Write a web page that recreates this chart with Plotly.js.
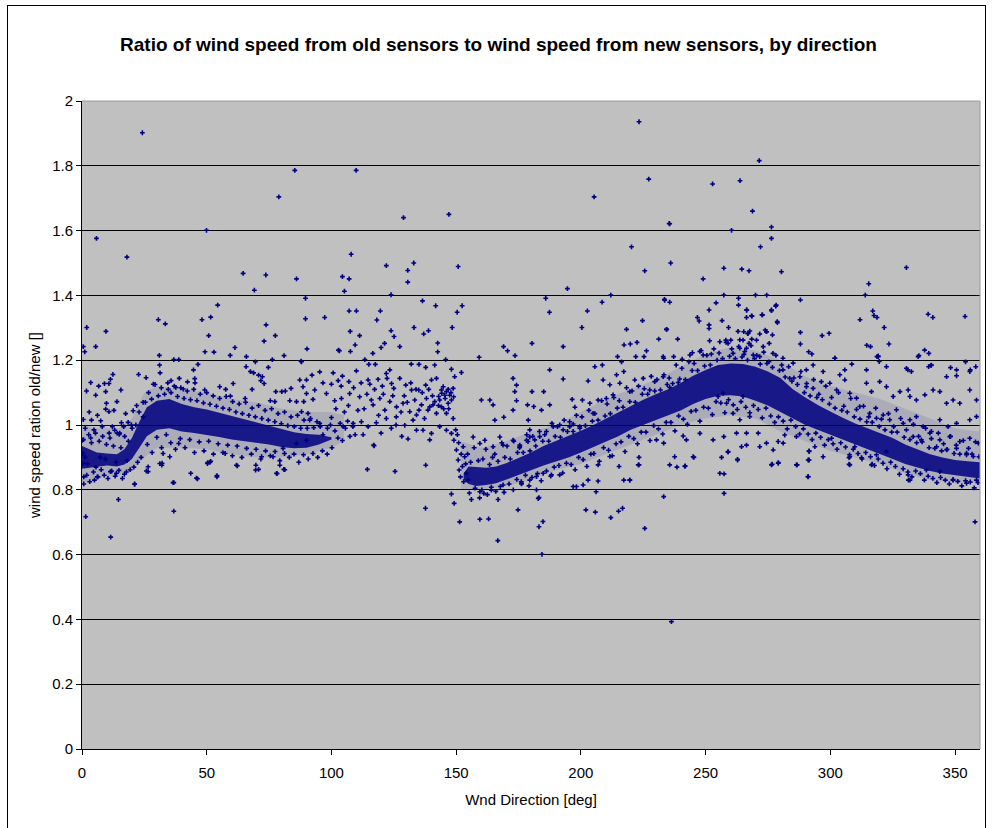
<!DOCTYPE html>
<html><head><meta charset="utf-8">
<script src="https://cdn.plot.ly/plotly-3.0.1.min.js"></script>
<style>
html,body{margin:0;padding:0;background:#fff;}
#wrap{position:relative;width:997px;height:828px;overflow:hidden;}
#chart{width:997px;height:828px;}
#frame{position:absolute;left:7px;top:5px;width:977px;height:840px;border:1px solid #000;pointer-events:none;}
</style>
</head><body>
<div id="wrap"><div id="chart"></div><div id="frame"></div></div>
<script>
// Dense core of the point cloud: lower / upper edges read at sampled directions
const coreDirA  = [0,3,6,10,14,17,20,23,26,30,35,40,45,50,55,60,65,70,75,80,85,90,95,100];
const coreLowA  = [0.865,0.868,0.872,0.875,0.872,0.878,0.895,0.93,0.965,0.985,0.99,0.98,0.975,0.97,0.963,0.955,0.95,0.945,0.94,0.932,0.928,0.93,0.94,0.955];
const coreHighA = [0.935,0.925,0.915,0.912,0.91,0.925,0.96,1.01,1.055,1.075,1.08,1.065,1.055,1.048,1.038,1.028,1.018,1.008,0.998,0.988,0.978,0.972,0.97,0.962];

const coreDirB  = [153,155,158,162,166,170,175,180,185,190,195,200,205,210,215,220,225,230,235,240,245,250,255,260,265,270,275,280,285,290,295,300,305,310,315,320,325,330,335,340,345,350,355,360];
const coreLowB  = [0.83,0.818,0.812,0.815,0.82,0.83,0.845,0.86,0.875,0.888,0.9,0.915,0.93,0.948,0.965,0.985,1.0,1.015,1.03,1.045,1.065,1.08,1.09,1.092,1.088,1.075,1.06,1.04,1.02,1.0,0.985,0.97,0.955,0.94,0.925,0.91,0.895,0.88,0.868,0.858,0.85,0.845,0.84,0.835];
const coreHighB = [0.85,0.872,0.87,0.868,0.872,0.882,0.898,0.915,0.935,0.95,0.965,0.982,1.0,1.02,1.04,1.06,1.078,1.095,1.11,1.13,1.152,1.17,1.185,1.19,1.188,1.18,1.165,1.145,1.11,1.085,1.062,1.042,1.022,1.005,0.99,0.975,0.96,0.94,0.925,0.91,0.9,0.892,0.888,0.885];

// Looser haze of points around the core
const hazeDirA  = [0,5,10,15,20,25,30,40,50,60,70,80,90,100,105];
const hazeLowA  = [0.82,0.83,0.84,0.845,0.86,0.9,0.93,0.93,0.925,0.91,0.9,0.9,0.91,0.93,0.95];
const hazeHighA = [1.0,0.99,0.99,0.99,1.02,1.1,1.12,1.11,1.1,1.08,1.07,1.05,1.04,1.04,1.03];
const hazeDirB  = [152,160,170,180,190,200,210,220,230,240,250,260,270,280,290,300,310,320,330,340,350,360];
const hazeLowB  = [0.8,0.8,0.81,0.83,0.86,0.88,0.91,0.94,0.97,1.0,1.02,1.03,1.02,0.98,0.95,0.92,0.9,0.88,0.85,0.83,0.82,0.82];
const hazeHighB = [0.95,0.93,0.95,0.98,1.0,1.04,1.08,1.11,1.14,1.18,1.22,1.24,1.23,1.2,1.15,1.12,1.1,1.08,1.05,1.02,0.99,0.98];

// Individual points next to the core: [direction deg, ratio]
const edgePoints = [
[0.6,0.955],[1.3,0.99],[1.9,0.845],[2.7,0.97],[3.1,0.825],[3.8,0.945],[4.6,0.855],[5.4,0.975],[6.1,0.84],[6.9,0.95],[7.7,0.862],[8.3,0.965],[8.9,0.845],[9.8,0.94],[10.4,0.835],[11.2,0.96],[11.9,0.858],[12.6,0.935],[13.3,0.842],[14.1,0.975],[14.8,0.86],[15.6,0.93],[16.2,0.835],[17.1,0.965],[17.8,0.855],[18.6,0.95],[19.3,0.862],[20.1,0.99],[20.8,0.87],[21.6,1.0],[22.3,0.885],[22.9,1.04],[23.7,0.9],[24.5,1.07],
[1.2,0.9],[2.2,0.88],[3.5,0.96],[4.8,0.985],[5.6,0.87],[7.3,0.9],[8.1,0.995],[9.4,0.895],[10.9,0.975],[12.2,0.995],[13.7,0.885],[15.1,0.975],[16.7,0.995],[18.1,0.89],[19.8,1.0],[2.9,1.04],[6.2,1.03],[12.8,1.045],[17.5,1.035],[21.9,1.06],
[25.4,1.07],[26.7,1.1],[27.9,1.08],[29.3,1.125],[30.6,1.09],[31.8,1.115],[33.1,1.095],[34.4,1.13],[35.7,1.1],[37.0,1.12],[38.3,1.088],[39.6,1.115],[40.9,1.082],[42.2,1.105],[43.5,1.078],[44.8,1.11],[46.1,1.075],[47.4,1.095],[48.7,1.068],[50.0,1.1],[51.3,1.064],[52.6,1.09],[53.9,1.058],[55.2,1.082],[56.5,1.052],[57.8,1.088],[59.1,1.048],[60.4,1.072],[61.7,1.04],[63.0,1.065],[64.3,1.035],[65.6,1.07],[66.9,1.03],[68.2,1.052],[69.5,1.025],[70.8,1.06],[72.1,1.02],[73.4,1.045],[74.7,1.015],[76.0,1.05],[77.3,1.01],[78.6,1.035],[79.9,1.004],[81.2,1.04],[82.5,0.998],[83.8,1.025],[85.1,0.995],[86.4,1.03],[87.7,0.99],[89.0,1.015],[90.3,0.99],[91.6,1.02],[92.9,0.992],[94.2,1.01],[95.5,0.995],
[26.2,0.94],[28.1,0.915],[30.0,0.962],[31.9,0.93],[33.8,0.97],[35.6,0.945],[37.5,0.925],[39.4,0.958],[41.3,0.93],[43.2,0.955],[45.1,0.915],[47.0,0.948],[48.9,0.92],[50.8,0.95],[52.7,0.91],[54.6,0.942],[56.5,0.915],[58.4,0.938],[60.3,0.905],[62.2,0.935],[64.1,0.9],[66.0,0.928],[67.9,0.91],[69.8,0.925],[71.7,0.895],[73.6,0.92],[75.5,0.905],[77.4,0.918],[79.3,0.89],[81.2,0.912],[83.1,0.9],[85.0,0.91],[86.9,0.885],[88.8,0.908],[90.7,0.895],[92.6,0.912],[94.5,0.9],[96.4,0.92],[98.3,0.91],[100.2,0.93],
[96.6,0.97],[98.4,0.99],[99.6,1.0],[101.4,0.982],[102.6,0.96],[103.5,1.005],[104.4,0.952],[105.6,0.99],[106.5,1.012],[107.4,0.965],[108.6,0.995],[109.5,0.97],
[154.6,0.91],[155.8,0.885],[157.2,0.93],[158.9,0.89],[155.3,0.79],[157.6,0.805],[159.4,0.775],
[160.7,0.895],[161.9,0.925],[163.4,0.878],[164.6,0.9],[160.3,0.8],[162.5,0.785],[164.1,0.808],
[165.5,0.91],[166.8,0.888],[168.3,0.945],[169.5,0.9],[165.9,0.795],[167.7,0.81],[169.2,0.792],
[170.4,0.935],[171.7,0.895],[173.1,0.95],[174.6,0.915],[171.2,0.818],[172.9,0.8],[174.3,0.832],
[175.4,0.93],[176.9,0.915],[178.3,0.97],[179.6,0.92],[176.1,0.825],[177.8,0.845],[179.2,0.812],
[180.7,0.965],[181.9,0.935],[183.4,0.98],[184.7,0.95],[180.4,0.838],[182.6,0.85],[184.1,0.828],
[185.5,0.97],[187.1,0.95],[188.4,1.005],[189.7,0.965],[186.2,0.858],[187.9,0.842],[189.3,0.87],
[190.6,0.995],[191.8,0.962],[193.3,1.015],[194.6,0.98],[191.2,0.875],[192.7,0.852],[194.2,0.882],
[195.5,1.01],[196.9,0.98],[198.2,1.03],[199.5,0.995],[196.1,0.878],[197.7,0.862],[199.1,0.9],
[200.4,1.025],[201.8,0.998],[203.2,1.045],[204.6,1.012],[200.9,0.893],[202.4,0.872],[204.0,0.91],
[205.6,1.035],[206.9,1.015],[208.3,1.075],[209.7,1.028],[205.2,0.912],[207.4,0.888],[209.1,0.93],
[210.5,1.065],[211.8,1.035],[213.2,1.085],[214.6,1.052],[211.1,0.922],[212.6,0.905],[214.1,0.942],
[215.4,1.075],[216.9,1.055],[218.3,1.115],[219.6,1.072],[216.1,0.948],[217.7,0.918],[219.2,0.965],
[220.5,1.105],[221.8,1.07],[223.1,1.12],[224.6,1.095],[221.2,0.958],[222.7,0.942],[224.2,0.978],
[225.4,1.112],[226.8,1.095],[228.2,1.15],[229.6,1.105],[226.1,0.978],[227.7,0.952],[229.2,0.998],
[230.5,1.14],[231.9,1.108],[233.3,1.155],[234.6,1.125],[231.1,0.988],[232.8,0.972],[234.2,1.008],
[235.4,1.145],[236.8,1.128],[238.2,1.185],[239.6,1.142],[236.1,1.008],[237.7,0.982],[239.2,1.028],
[240.5,1.175],[241.9,1.14],[243.3,1.195],[244.6,1.168],[241.1,1.018],[242.7,1.002],[244.2,1.042],
[245.4,1.19],[246.8,1.168],[248.2,1.23],[249.6,1.182],[246.1,1.045],[247.7,1.012],[249.2,1.055],
[250.5,1.215],[251.9,1.185],[253.3,1.235],[254.6,1.2],[251.1,1.052],[252.7,1.032],[254.2,1.072],
[255.4,1.222],[256.8,1.205],[258.2,1.255],[259.6,1.212],[256.1,1.068],[257.7,1.038],[259.2,1.078],
[260.5,1.235],[261.9,1.205],[263.3,1.242],[264.6,1.21],[261.1,1.062],[262.7,1.048],[264.2,1.072],
[265.4,1.218],[266.8,1.2],[268.2,1.245],[269.6,1.205],[266.1,1.055],[267.7,1.038],[269.2,1.06],
[270.5,1.215],[271.9,1.188],[273.3,1.225],[274.6,1.19],[271.1,1.048],[272.7,1.022],[274.2,1.052],
[275.4,1.195],[276.8,1.178],[278.2,1.215],[279.6,1.168],[276.1,1.028],[277.7,1.008],[279.2,1.025],
[280.5,1.185],[281.9,1.148],[283.3,1.18],[284.6,1.135],[281.1,1.012],[282.7,0.988],[284.2,1.015],
[285.4,1.145],[286.8,1.125],[288.2,1.165],[289.6,1.1],[286.1,0.995],[287.7,0.972],[289.2,0.988],
[290.5,1.128],[291.9,1.09],[293.3,1.14],[294.6,1.085],[291.1,0.972],[292.7,0.955],[294.2,0.975],
[295.4,1.095],[296.8,1.078],[298.2,1.12],[299.6,1.065],[296.1,0.962],[297.7,0.938],[299.2,0.955],
[300.5,1.085],[301.9,1.052],[303.3,1.1],[304.6,1.045],[301.1,0.942],[302.7,0.925],[304.2,0.945],
[305.4,1.058],[306.8,1.04],[308.2,1.082],[309.6,1.025],[306.1,0.932],[307.7,0.908],[309.2,0.925],
[310.5,1.048],[311.9,1.018],[313.3,1.058],[314.6,1.01],[311.1,0.912],[312.7,0.895],[314.2,0.915],
[315.4,1.025],[316.8,1.008],[318.2,1.052],[319.6,0.995],[316.1,0.902],[317.7,0.875],[319.2,0.895],
[320.5,1.018],[321.9,0.985],[323.3,1.035],[324.6,0.978],[321.1,0.882],[322.7,0.865],[324.2,0.885],
[325.4,0.995],[326.8,0.978],[328.2,1.02],[329.6,0.962],[326.1,0.872],[327.7,0.848],[329.2,0.865],
[330.5,0.985],[331.9,0.955],[333.3,1.002],[334.6,0.945],[331.1,0.855],[332.7,0.84],[334.2,0.858],
[335.4,0.965],[336.8,0.948],[338.2,0.99],[339.6,0.93],[336.1,0.85],[337.7,0.83],[339.2,0.842],
[340.5,0.958],[341.9,0.928],[343.3,0.975],[344.6,0.92],[341.1,0.835],[342.7,0.822],[344.2,0.838],
[345.4,0.942],[346.8,0.925],[348.2,0.965],[349.6,0.912],[346.1,0.83],[347.7,0.818],[349.2,0.832],
[350.5,0.938],[351.9,0.91],[353.3,0.952],[354.6,0.908],[351.1,0.826],[352.7,0.812],[354.2,0.828],
[355.4,0.928],[356.8,0.91],[358.2,0.948],[359.6,0.902],[356.1,0.824],[357.7,0.806],[359.2,0.822]
];

const haloPoints = [
[59.4,1.215],[31.1,1.185],[31.3,1.161],[36.8,1.202],[38.8,1.202],[69.5,1.195],[76.3,1.202],[46.5,1.187],[44.7,1.17],[45.2,1.143],[65.8,1.18],[67.5,1.165],[68.8,1.161],[70.8,1.154],[72.3,1.149],[74.7,1.178],[88.0,1.195],
[12.4,1.156],[11.4,1.141],[10.8,1.128],[3.5,1.131],[6.7,1.12],[9.0,1.128],[22.7,1.156],[25.7,1.146],[28.6,1.126],[35.7,1.137],[39.0,1.144],[42.3,1.133],[45.3,1.13],[49.2,1.108],[34.6,1.11],[37.6,1.116],[40.6,1.111],[1.8,1.105],[9.5,1.103],[5.5,1.092],[15.6,1.108],[55.2,1.118],[57.6,1.11],[60.6,1.128],[71.7,1.137],[73.0,1.128],[83.8,1.113],[87.3,1.139],[88.6,1.118],[77.7,1.103],[80.1,1.103],[81.5,1.105],[68.2,1.11],[59.5,1.089],[65.4,1.082],[83.3,1.075],[86.0,1.072],[90.0,1.097],[75.5,1.075],[77.3,1.072],[9.8,1.067],[14.0,1.072],[9.5,1.049],[10.8,1.041],[0.5,1.017],[3.8,1.015],[7.5,1.013],[15.8,1.007],[18.5,1.008],[13.1,0.984],[14.9,0.971],[20.5,1.044],[24.5,1.025],
[0.1,0.953],[0.3,0.912],[0.4,0.882],[0.7,0.84],[0.7,0.818],[6.4,0.84],[5.0,0.83],[11.4,0.856],[13.8,0.851],[17.0,0.848],[21.1,0.818],[25.8,0.858],[26.5,0.871],[31.2,0.881],[32.0,0.876],[36.5,0.822],[32.5,0.912],[35.2,0.902],[38.8,0.943],[43.6,0.851],[45.9,0.836],[50.3,0.881],[51.3,0.885],[54.1,0.84],[57.4,0.912],[61.9,0.876],[69.7,0.876],[70.8,0.863],[78.0,0.851],[79.3,0.876],[80.9,0.863],[80.6,0.928],[72.0,0.902],[76.6,0.902],[86.0,0.943],[90.0,0.953],
[113.4,1.202],[115,1.187],[117.6,1.187],[122,1.159],[123.4,1.17],[132,1.188],[135.1,1.187],[137.8,1.178],[141.4,1.185],[145.8,1.202],[148.1,1.172],[152.1,1.162],[149.4,1.149],
[92.2,1.154],[95.3,1.164],[100.7,1.161],[104.4,1.151],[90,1.139],[96.6,1.13],[100,1.126],[102.7,1.137],[107,1.134],[110,1.167],[114.7,1.139],[115.4,1.126],[118.7,1.141],[120.4,1.12],[122.3,1.144],[124.1,1.128],[125,1.113],[127.4,1.144],[129.8,1.123],[132.1,1.108],[135,1.108],[137.8,1.123],[140.1,1.139],[142.1,1.144],[144.1,1.108],
[144.8,1.118],[146.8,1.11],[148.8,1.113],[146.1,1.103],[147.4,1.092],[149.0,1.087],[145.4,1.092],[148.1,1.077],[146.8,1.067],[143.4,1.077],[144.2,1.098],[147.9,1.1],[145.6,1.082],[143.0,1.088],[141.4,1.072],[139.4,1.056],[138.1,1.082],[136.1,1.062],
[93.3,1.108],[92.6,1.079],[88.9,1.072],[90.6,1.036],[88.0,1.041],[98,1.097],[101.3,1.075],[104,1.082],[107.3,1.097],[111.3,1.087],[116,1.077],[116.7,1.062],[119.4,1.082],[123.4,1.072],[121.4,1.046],[126.1,1.056],[128.7,1.067],[131.4,1.041],[133.4,1.077],[135.1,1.046],[134.1,1.031],[138.7,1.046],[140.7,1.062],[142.1,1.036],[144.1,1.056],[146.1,1.036],[148.8,1.02],
[91.3,1.015],[95.3,1.005],[100,1.023],[104.7,0.995],[108.7,1.005],[112,1.01],[114.7,0.995],[118,1.007],[122,1.02],[126,1.025],[129.4,0.999],[132.7,1.015],[136.7,0.984],[140.1,0.974],[143.4,0.995],[146.1,0.984],[148.1,0.974],
[101.8,1.05],[103.9,1.12],[105.2,1.04],[106.8,1.06],[108.9,1.115],[110.6,1.045],[111.9,1.13],[113.1,1.05],[114.2,1.095],[117.3,1.11],[118.9,1.03],[120.8,1.095],[124.6,1.09],[125.9,1.0],[127.9,1.04],[129.2,1.09],[130.4,1.07],[131.8,1.13],[133.9,1.11],[136.4,1.1],[137.3,1.02],[139.0,1.11],[140.5,1.09],[142.9,1.06],[145.0,1.05],[147.0,1.05],[112.7,0.97],[119.9,0.975],[124.0,0.99],[128.2,0.965],
[149.1,0.953],[150.1,0.923],[150.8,0.892],[151.2,0.861],[151.7,0.84],[152.8,0.933],[153.4,0.902],[152.5,0.872],[154.1,0.851],[154.8,0.83],[153.0,0.825],[150.5,0.97],[151.0,0.945],[152.0,0.91],[149.8,0.985],[153.8,0.88],
[156.8,0.963],[159.5,0.943],[161.5,0.953],[164.8,0.933],[167.5,0.963],[168.8,0.938],[172.8,0.953],[175.5,0.938],[178.2,0.953],[179.5,0.963],[160.1,1.077],[163.5,1.077],[164.8,1.062],[165.5,1.015],[169.1,1.024],[172.8,1.144],[174.2,1.123],[173.5,1.103],[174.2,1.075],[172.8,1.046],[178.6,1.062],[178.9,1.015],[116.9,0.938],[134.1,0.984],
[156.1,0.77],[159.5,0.794],[161.1,0.789],[164.1,0.799],[166.8,0.77],[168.8,0.815],[176.2,0.818],
[244.7,1.223],[247.7,1.227],[249,1.216],[252.3,1.219],[255.7,1.257],[259,1.252],[261,1.221],[263.7,1.263],[266.4,1.237],[233.2,1.206],[237.2,1.211],[240.6,1.203],[243.7,1.216],
[205.6,1.18],[208.6,1.185],[214.3,1.155],[217.2,1.165],[221.6,1.139],[208.9,1.139],[211.6,1.124],[212.9,1.093],[215.6,1.129],[219.6,1.103],[225,1.144],[227.6,1.108],[229.6,1.134],[233,1.149],[235.6,1.116],[239,1.131],[187.5,1.17],[192.9,1.142],[202.9,1.136],[180.4,1.103],[185.1,1.103],[181.1,1.057],[184.2,1.046],[187.5,1.062],[196.5,1.079],[197.6,1.055],[200.6,1.077],[203.6,1.067],[191.5,1.0],[195.5,0.995],[199.6,0.99],[204.9,1.036],[206.9,1.077],[210.2,1.082],
[175.5,0.933],[178.8,0.949],[181.5,0.954],[183.5,0.964],[179.5,0.985],[186.2,0.98],[188.9,0.995],[192.9,0.985],[196.9,1.003],
[176.2,0.82],[179.5,0.83],[182.2,0.841],[184.9,0.851],[188.2,0.846],[191.5,0.846],[196.9,0.81],[202.9,0.83],[206.9,0.877],[211.6,0.903],[215.3,0.872],[219.6,0.83],[223,0.877],[230.3,0.954],[233.2,0.944],[237.6,0.902],[241.7,0.872],[245,0.902],[241,0.966],[242.3,0.954],[247.7,0.974],[253,0.954],[256.4,0.9],[259,0.918],[262.8,0.892],[255.7,0.851],[257.3,0.964],[262.4,0.975],[264.4,0.933],[255,1.088],[258.4,1.067],[261,1.036],[263.7,1.016],[267.7,1.026],[257,1.098],[265,1.088],
[266.4,1.355],[268.4,1.337],[266.4,1.332],[272.8,1.34],[276.4,1.355],[278.1,1.367],[278.8,1.316],[265.3,1.288],[267.0,1.283],[271.7,1.281],[274.4,1.288],[276.8,1.278],[265,1.262],[267.4,1.252],[270.4,1.262],[273.1,1.242],[275.5,1.252],
[263.7,1.237],[265.7,1.227],[269.1,1.216],[271.7,1.211],[277,1.221],[281,1.206],[285.1,1.191],[290.4,1.17],[293.1,1.185],[297.1,1.165],[301.8,1.206],[303.8,1.155],[305.8,1.17],[314.5,1.17],[319.2,1.213],[319.6,1.196],[322.5,1.18],[332.5,1.165],[335.2,1.211],[340.5,1.185],[350.6,1.17],[355.9,1.165],
[281,1.17],[283.7,1.144],[287.8,1.149],[290.4,1.118],[293.1,1.113],[296.4,1.134],[299.8,1.129],[302.5,1.108],[305.8,1.139],[307.8,1.098],[310.5,1.083],[314.5,1.129],[316.5,1.103],[319.8,1.134],[322.5,1.118],[325.2,1.088],[327.9,1.103],[331.2,1.108],[331.9,1.088],[334.5,1.077],[337.9,1.093],[341.2,1.108],[343.9,1.103],[346.6,1.067],[349.2,1.077],[351.9,1.067],[355.9,1.108],[358.6,1.077],
[311.8,1.057],[315.8,1.036],[318.5,1.021],[321.2,1.031],[323.8,1.016],[326.5,1.047],[329.2,1.005],[331.9,1.016],[334.5,1.026],[337.2,0.995],[340.5,0.98],[343.9,1.016],[347.2,0.995],[350.6,1.005],[355.9,1.016],[358.6,1.026],[333.2,0.964],[336.5,0.954],[339.9,0.975],[343.9,0.954],[347.9,0.964],[351.9,0.949],[355.9,0.959],[359.3,0.944],[342.6,0.933],[346.6,0.923],[350.6,0.928],[354.6,0.913],[357.3,0.903],
[266.4,0.975],[271.1,0.975],[274.4,0.944],[279.1,0.949],[281.7,0.969],[266.4,0.938],[271.7,0.933],[277.1,0.923],[281.1,0.944],[286.4,0.964],[276.4,0.877],[279.1,0.882],[286.4,0.877],[291.1,0.892],[291.1,0.841],[291.5,0.918],[293.8,0.933],[297.1,0.902],[300.5,0.959],[307.8,0.902],[307.8,0.877],[309.8,0.933],[316.5,0.877],[318.5,0.908],[322.5,0.918],[331.2,0.846],[331.9,0.83],[338.5,0.861],[343.9,0.856],[349.2,0.83],[354.6,0.82],[358.6,0.83]
];

const highOutliers = [
[24.2,1.902],[5.8,1.576],[18.0,1.518],[49.9,1.601],[78.9,1.704],[85.3,1.786],[64.6,1.468],[73.7,1.463],[69.1,1.416],[86.0,1.451],[54.4,1.370],[89.6,1.391],[89.6,1.328],[97.3,1.332],[1.9,1.301],[9.6,1.289],[30.6,1.325],[33.4,1.312],[48.1,1.325],[51.6,1.333],[50.8,1.276],[73.8,1.309],[77.5,1.276],[73.0,1.259],[0.5,1.242],[1.1,1.226],[5.5,1.242],[49.3,1.226],[52.9,1.225],[61.3,1.239],[65.9,1.211],[81.0,1.214],[90.2,1.235],[31.0,1.215],[102.8,1.231],[87.8,1.197],
[223.3,1.936],[109.9,1.786],[227.2,1.759],[205.3,1.704],[128.9,1.640],[147.1,1.650],[235.4,1.622],[220.3,1.550],[225.6,1.476],[107.9,1.527],[104.4,1.458],[107.1,1.451],[105.2,1.413],[122.0,1.492],[130.6,1.477],[133.0,1.500],[130.6,1.441],[150.8,1.489],[123.9,1.402],[194.6,1.421],[185.9,1.391],[208.5,1.379],[212.0,1.401],[233.6,1.385],[107.1,1.352],[110.0,1.352],[119.6,1.352],[118.2,1.324],[136.5,1.383],[141.8,1.368],[150.4,1.348],[152.4,1.368],[187.4,1.348],[202.6,1.352],[224.7,1.322],[200.4,1.301],[107.5,1.289],[111.3,1.276],[109.5,1.247],[133.1,1.301],[137.0,1.281],[138.9,1.291],[148.4,1.301],[123.9,1.291],[125.1,1.273],[119.9,1.239],[121.3,1.252],[127.4,1.242],[103.2,1.229],[107.6,1.227],[116.6,1.221],[142.6,1.253],[142.6,1.226],[169.0,1.242],[170.6,1.229],[173.6,1.214],[180.4,1.252],[192.9,1.242],[159.2,1.209],[218.3,1.295],[217.3,1.247],[219.8,1.25],[222.5,1.255],[231.2,1.265],[234.3,1.295],[214.7,1.211],[216.3,1.195],[226.3,1.229],[222.0,1.211],[225.3,1.211],[233.0,1.211],
[271.5,1.816],[252.8,1.744],[263.8,1.754],[268.8,1.660],[235.6,1.621],[260.4,1.601],[276.4,1.611],[276.4,1.576],[272.0,1.550],[236.0,1.500],[257.3,1.484],[264.5,1.481],[267.4,1.476],[280.4,1.473],[330.5,1.486],[249.0,1.451],[315.4,1.436],[314.0,1.401],[257.3,1.401],[270.0,1.401],[274.5,1.401],[263.2,1.391],[263.2,1.370],[254.2,1.377],[251.4,1.355],[266.5,1.355],[272.6,1.340],[268.6,1.336],[278.3,1.370],[276.4,1.353],[278.7,1.319],[246.7,1.332],[247.4,1.321],[256.6,1.322],[259.2,1.301],[288.0,1.386],[311.9,1.325],[317.0,1.352],[317.5,1.338],[318.7,1.332],[321.6,1.301],[339.2,1.342],[341.1,1.332],[354.0,1.335],[233.5,1.388],[235.6,1.379],[234.4,1.295],[238.8,1.265],[251.4,1.309],[251.4,1.298],[251.6,1.260],[258.1,1.262],[260.1,1.262],[263.0,1.289],[266.9,1.282],[267.7,1.29],[268.5,1.265],[273.9,1.293],[274.4,1.288],[288.0,1.286],[288.0,1.25],[296.7,1.276],[299.5,1.283],[291.3,1.226],[292.6,1.219],[314.6,1.246],[316.1,1.242],[323.5,1.25],[318.7,1.211],[319.2,1.211],[337.8,1.231],[339.5,1.221],[335.5,1.214],[354.2,1.195],[358.3,1.18],[301.8,1.206],[308.6,1.188],[330.5,1.175],[331.1,1.17],[339.4,1.18],[340.4,1.184],[348.2,1.177],[356.1,1.17],[346.6,1.149],[350.6,1.152]
];

const lowOutliers = [
[1.5,0.717],[11.5,0.654],[14.6,0.770],[21.1,0.817],[36.8,0.822],[36.8,0.734],[46.3,0.834],[54.1,0.844],[62.3,0.874],[69.6,0.861],[78.2,0.85],[81.3,0.862],[114.4,0.863],[125.5,0.857],[137.8,0.876],[137.7,0.743],[148.1,0.787],[149.2,0.758],[151.4,0.701],[159.5,0.709],[163.0,0.71],[166.7,0.643],[130.7,0.957],[139.4,0.954],[117.1,0.936],[50.4,0.884],[51.6,0.888],[32.1,0.882],[26.5,0.856],
[174.8,0.738],[182.2,0.8],[183.2,0.776],[182.9,0.773],[183.2,0.686],[184.8,0.702],[184.4,0.601],[202.0,0.738],[205.8,0.731],[206.1,0.794],[206.9,0.827],[212.0,0.714],[215.1,0.734],[216.7,0.743],[217.2,0.83],[219.6,0.83],[225.6,0.681],[233.2,0.779],[236.3,0.393],[257.4,0.849],[257.4,0.789],[291.1,0.84],[331.3,0.83],[358.0,0.701],[198.2,0.81],[200.9,0.815],[223.3,0.9],[223.3,0.877],[235.6,0.877],[238.5,0.87],[241.8,0.874],[245.3,0.9],[259.0,0.916],[262.8,0.894],[276.7,0.879],[279.2,0.884],[286.7,0.877],[291.5,0.92],[291.5,0.892],[307.5,0.899],[307.5,0.879],[316.8,0.879],[312.5,0.899]
];

const xTicks = [0,50,100,150,200,250,300,350];
const yTicks = [0,0.2,0.4,0.6,0.8,1,1.2,1.4,1.6,1.8,2];

const NAVY = '#000080';
const FONT = 'Liberation Sans, Arial, sans-serif';

function bandTrace(dirs, low, high, color) {
  return {
    x: dirs.concat(dirs.slice().reverse()),
    y: high.concat(low.slice().reverse()),
    type: 'scatter', mode: 'lines', fill: 'toself',
    fillcolor: color, line: {width: 0, color: 'rgba(0,0,0,0)'},
    hoverinfo: 'skip', showlegend: false
  };
}
const allPts = edgePoints.concat(haloPoints, highOutliers, lowOutliers);
const pointTrace = {
  x: allPts.map(p => p[0]), y: allPts.map(p => p[1]),
  type: 'scatter', mode: 'markers', showlegend: false,
  marker: {color: NAVY, size: 4, symbol: 'cross', line: {width: 0}}
};

const HAZE = 'rgba(0,0,128,0.1)';
const CORE = 'rgba(0,0,128,0.86)';

const layout = {
  width: 997, height: 828,
  margin: {l: 82, r: 17, t: 101, b: 79},
  paper_bgcolor: '#ffffff', plot_bgcolor: '#c0c0c0',
  font: {family: FONT, color: '#000', size: 15},
  title: {text: 'Ratio of wind speed from old sensors to wind speed from new sensors, by direction',
          font: {family: FONT, size: 19, color: '#000', weight: 'bold'},
          x: 0.5, xanchor: 'center', xref: 'container', y: 1 - 44/828, yanchor: 'middle', yref: 'container'},
  xaxis: {range: [0, 360], tickvals: xTicks, ticktext: xTicks.map(String), showgrid: false, zeroline: false,
          showline: true, linecolor: '#000', linewidth: 1, ticks: 'outside', ticklen: 5, tickcolor: '#000',
          ticklabelstandoff: 5, tickfont: {family: FONT, size: 15, color: '#000'},
          title: {text: 'Wnd Direction [deg]', font: {family: FONT, size: 15, color: '#000'}, standoff: 14}},
  yaxis: {range: [0, 2], tickvals: yTicks, ticktext: yTicks.map(String), showgrid: true, gridcolor: '#000', gridwidth: 1,
          zeroline: false, showline: true, linecolor: '#000', linewidth: 1, ticks: 'outside', ticklen: 5, tickcolor: '#000',
          tickfont: {family: FONT, size: 15, color: '#000'},
          title: {text: 'wind speed ration old/new []', font: {family: FONT, size: 15, color: '#000'}, standoff: 7}},
  shapes: [
    {type: 'line', xref: 'paper', yref: 'paper', x0: 0, x1: 1, y0: 1, y1: 1, line: {color: '#9a9a9a', width: 1}, layer: 'above'},
    {type: 'line', xref: 'paper', yref: 'paper', x0: 1, x1: 1, y0: 0, y1: 1, line: {color: '#9a9a9a', width: 1}, layer: 'above'}
  ]
};

Plotly.newPlot('chart', [
  bandTrace(hazeDirA, hazeLowA, hazeHighA, HAZE), bandTrace(hazeDirB, hazeLowB, hazeHighB, HAZE),
  bandTrace(coreDirA, coreLowA, coreHighA, CORE), bandTrace(coreDirB, coreLowB, coreHighB, CORE),
  pointTrace], layout, {staticPlot: true, displayModeBar: false});
</script>
</body></html>
